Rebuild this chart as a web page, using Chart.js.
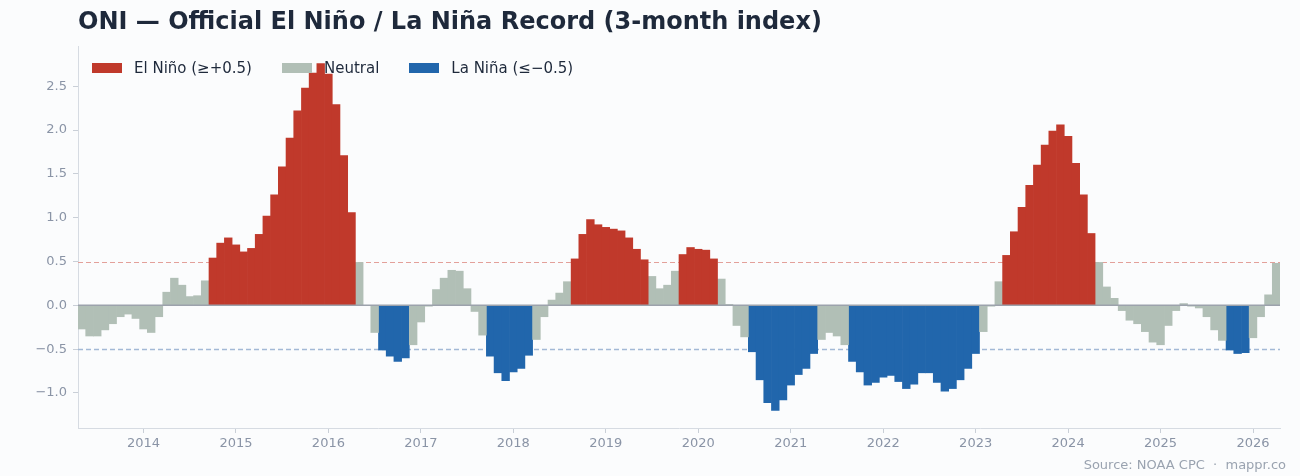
<!DOCTYPE html>
<html>
<head>
<meta charset="utf-8">
<script src="https://cdn.jsdelivr.net/npm/chart.js@4.4.1/dist/chart.umd.min.js"></script>
<style>
  html, body { margin: 0; padding: 0; background: #fbfcfd; }
  #wrap { position: relative; width: 1300px; height: 476px; font-family: "DejaVu Sans", sans-serif; }
  #oniChart { position: absolute; left: 0; top: 0; }
  #title { position: absolute; left: 78px; top: 6px; font-size: 24px; line-height: 30px; font-weight: bold; color: #1e293b; white-space: nowrap; }
  #legend { position: absolute; left: 92px; top: 58px; display: flex; font-size: 15px; line-height: 20px; color: #1e293b; }
  .item { display: flex; align-items: center; margin-right: 30px; }
  .sw { width: 30px; height: 10px; margin-right: 12px; }
  #source { position: absolute; right: 14px; top: 456px; font-size: 13px; line-height: 18px; color: #9aa3b0; white-space: nowrap; }
</style>
</head>
<body>
<div id="wrap">
  <canvas id="oniChart" width="1300" height="476"></canvas>
  <div id="title">ONI — Official El Niño / La Niña Record (3-month index)</div>
  <div id="legend"></div>
  <div id="source">Source: NOAA CPC &nbsp;·&nbsp; mappr.co</div>
</div>
<script>
// ONI values per year (first year starts in May)
const firstYear = 2013;
const firstMonth = 5;
const oni2013 = [-0.27, -0.35, -0.35, -0.28, -0.21, -0.13, -0.10, -0.15];
const oni2014 = [-0.27, -0.31, -0.13, 0.15, 0.31, 0.23, 0.10, 0.11, 0.28, 0.54, 0.71, 0.77];
const oni2015 = [0.69, 0.61, 0.65, 0.81, 1.02, 1.26, 1.58, 1.91, 2.22, 2.48, 2.65, 2.76];
const oni2016 = [2.64, 2.29, 1.71, 1.06, 0.49, 0.00, -0.31, -0.51, -0.58, -0.64, -0.60, -0.45];
const oni2017 = [-0.19, -0.01, 0.18, 0.31, 0.40, 0.39, 0.19, -0.07, -0.34, -0.58, -0.77, -0.86];
const oni2018 = [-0.76, -0.72, -0.57, -0.39, -0.13, 0.06, 0.14, 0.27, 0.53, 0.81, 0.98, 0.92];
const oni2019 = [0.89, 0.87, 0.85, 0.77, 0.64, 0.52, 0.33, 0.19, 0.23, 0.39, 0.58, 0.66];
const oni2020 = [0.64, 0.63, 0.53, 0.30, 0.01, -0.23, -0.36, -0.53, -0.85, -1.11, -1.20, -1.08];
const oni2021 = [-0.91, -0.79, -0.72, -0.55, -0.39, -0.31, -0.35, -0.45, -0.64, -0.76, -0.91, -0.88];
const oni2022 = [-0.82, -0.80, -0.87, -0.95, -0.90, -0.77, -0.77, -0.88, -0.98, -0.95, -0.85, -0.72];
const oni2023 = [-0.55, -0.30, -0.01, 0.27, 0.57, 0.84, 1.12, 1.37, 1.60, 1.83, 1.99, 2.06];
const oni2024 = [1.93, 1.62, 1.26, 0.82, 0.49, 0.21, 0.08, -0.06, -0.17, -0.21, -0.30, -0.42];
const oni2025 = [-0.45, -0.23, -0.06, 0.02, -0.01, -0.03, -0.13, -0.28, -0.40, -0.51, -0.55, -0.54];
const oni2026 = [-0.37, -0.13, 0.12, 0.48];

const yearTicks = [2014, 2015, 2016, 2017, 2018, 2019, 2020, 2021, 2022, 2023, 2024, 2025, 2026];
const yTicks = [-1.0, -0.5, 0.0, 0.5, 1.0, 1.5, 2.0, 2.5];
const elNinoAt = 0.5;
const laNinaAt = -0.5;

const RED = '#c0392b', GRAY = '#b1bfb6', BLUE = '#2166ac';
const categories = [
  { label: 'El Niño (≥+0.5)', color: RED, test: v => v >= elNinoAt },
  { label: 'Neutral', color: GRAY, test: v => v > laNinaAt && v < elNinoAt },
  { label: 'La Niña (≤−0.5)', color: BLUE, test: v => v <= laNinaAt }
];

// flatten to points, x in decimal years (bar centred on the month)
const oni = [].concat(oni2013, oni2014, oni2015, oni2016, oni2017, oni2018, oni2019,
  oni2020, oni2021, oni2022, oni2023, oni2024, oni2025, oni2026);
const points = oni.map((v, i) => ({ x: firstYear + (firstMonth - 1 + i) / 12, y: v }));
const half = 1 / 24;
const xMin = points[0].x - half;
const xMax = points[points.length - 1].x + half;

// html legend
document.getElementById('legend').innerHTML = categories.map(c =>
  `<div class="item"><span class="sw" style="background:${c.color}"></span>${c.label}</div>`).join('');

// threshold + zero lines
const refLines = {
  id: 'refLines',
  beforeDatasetsDraw(chart) {
    const { ctx, chartArea: a, scales: { y } } = chart;
    const lines = [{ v: elNinoAt, c: '#e3a09a', w: 1 }, { v: laNinaAt, c: '#a3b9d6', w: 1.6 }];
    lines.forEach(l => {
      const py = Math.round(y.getPixelForValue(l.v)) + 0.5;
      ctx.save();
      ctx.lineWidth = l.w;
      ctx.setLineDash([5, 3]);
      ctx.strokeStyle = l.c;
      ctx.beginPath(); ctx.moveTo(a.left, py); ctx.lineTo(a.right, py); ctx.stroke();
      ctx.restore();
    });
  },
  afterDatasetsDraw(chart) {
    const { ctx, chartArea: a, scales: { y } } = chart;
    const py = y.getPixelForValue(0);
    ctx.save();
    ctx.strokeStyle = '#9ca2ac';
    ctx.lineWidth = 1.5;
    ctx.beginPath(); ctx.moveTo(a.left, py); ctx.lineTo(a.right, py); ctx.stroke();
    ctx.restore();
  }
};

Chart.defaults.font.family = '"DejaVu Sans", sans-serif';

const ctx = document.getElementById('oniChart').getContext('2d');
const chart = new Chart(ctx, {
  type: 'bar',
  data: {
    datasets: categories.map(c => ({
      label: c.label,
      data: points.map(p => ({ x: p.x, y: c.test(p.y) ? p.y : null })),
      backgroundColor: c.color,
      borderWidth: 0,
      barPercentage: 1,
      categoryPercentage: 1,
      grouped: false
    }))
  },
  options: {
    responsive: false,
    animation: false,
    layout: { padding: { top: 46, right: 20, bottom: 20, left: 0 } },
    plugins: { legend: { display: false }, tooltip: { enabled: false } },
    scales: {
      x: {
        type: 'linear',
        offset: false,
        min: xMin,
        max: xMax,
        afterBuildTicks: s => { s.ticks = yearTicks.map(v => ({ value: v })); },
        afterFit: s => { s.height = 28; },
        grid: { display: true, drawOnChartArea: false, drawTicks: true, tickLength: 5, color: '#c9cfd7', offset: false },
        border: { display: true, color: '#d6dbe2', width: 1 },
        ticks: { color: '#8a94a6', font: { size: 13 }, padding: 3, maxRotation: 0, autoSkip: false,
          callback: v => String(v) }
      },
      y: {
        min: -1.40,
        max: 2.96,
        afterBuildTicks: s => { s.ticks = yTicks.map(v => ({ value: v })); },
        afterFit: s => { s.width = 78; },
        grid: { display: true, drawOnChartArea: false, drawTicks: true, tickLength: 5, color: '#c9cfd7' },
        border: { display: true, color: '#d6dbe2', width: 1 },
        ticks: { color: '#8a94a6', font: { size: 13 }, padding: 6,
          callback: v => (v < 0 ? '−' + Math.abs(v).toFixed(1) : v.toFixed(1)) }
      }
    }
  },
  plugins: [refLines]
});
</script>
</body>
</html>
